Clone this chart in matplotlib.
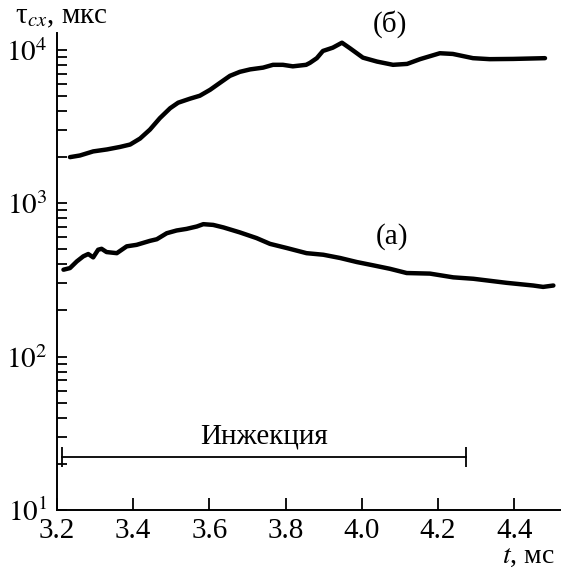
import math
import matplotlib
matplotlib.use("Agg")
import matplotlib.pyplot as plt
from matplotlib.ticker import LogLocator, FixedLocator, NullFormatter, FuncFormatter

plt.rcParams['font.family'] = ['Liberation Serif', 'DejaVu Serif']
plt.rcParams['mathtext.fontset'] = 'stix'

# Curve (б)
t_b = [3.234, 3.260, 3.295, 3.331, 3.365, 3.392, 3.418, 3.444, 3.470, 3.497,
       3.518, 3.549, 3.575, 3.602, 3.628, 3.654, 3.680, 3.707, 3.741, 3.767,
       3.793, 3.819, 3.854, 3.864, 3.882, 3.898, 3.924, 3.948, 3.969, 4.003,
       4.040, 4.082, 4.119, 4.153, 4.205, 4.239, 4.292, 4.336, 4.397, 4.481]
tau_b = [2000, 2050, 2180, 2245, 2330, 2417, 2644, 3025, 3592, 4170,
         4530, 4810, 5030, 5500, 6110, 6780, 7200, 7470, 7670, 8000,
         8000, 7820, 8000, 8240, 8840, 9850, 10350, 11150, 10260, 8910,
         8400, 8000, 8110, 8710, 9520, 9420, 8840, 8710, 8740, 8840]

# Curve (а)
t_a = [3.217, 3.234, 3.252, 3.269, 3.282, 3.295, 3.308, 3.317, 3.330, 3.357,
       3.383, 3.409, 3.444, 3.462, 3.488, 3.514, 3.540, 3.567, 3.584, 3.610,
       3.637, 3.680, 3.724, 3.759, 3.803, 3.855, 3.899, 3.943, 3.987, 4.030,
       4.074, 4.118, 4.179, 4.240, 4.293, 4.380, 4.450, 4.476, 4.503]
tau_a = [369, 378, 418, 451, 467, 444, 498, 505, 481, 473,
         524, 536, 569, 583, 638, 665, 681, 706, 731, 723,
         696, 646, 593, 544, 511, 473, 462, 440, 414, 394,
         374, 351, 348, 329, 322, 303, 291, 285, 291]

# Injection interval
inj_start, inj_end = 3.212, 4.274
inj_level = 22.2
inj_label = "Инжекция"

x_ticks = [3.2, 3.4, 3.6, 3.8, 4.0, 4.2, 4.4]
x_tick_labels = ["3.2", "3.4", "3.6", "3.8", "4.0", "4.2", "4.4"]
y_major = [10, 100, 1000, 10000]

fig = plt.figure(figsize=(5.61, 5.68), dpi=100)
ax = fig.add_axes([57/561, 58/568, 504/561, 477/568])

ax.plot(t_b, tau_b, color='black', lw=3.2, solid_capstyle='round', solid_joinstyle='round')
ax.plot(t_a, tau_a, color='black', lw=3.2, solid_capstyle='round', solid_joinstyle='round')

ax.set_yscale('log')
ax.set_xlim(3.2, 4.523)
ax.set_ylim(10, 12900)

ax.yaxis.set_major_locator(FixedLocator(y_major))
ax.yaxis.set_major_formatter(FuncFormatter(lambda v, p: r'$10^{%d}$' % round(math.log10(v))))
ax.yaxis.set_minor_locator(LogLocator(base=10, subs=range(2, 10), numticks=20))
ax.yaxis.set_minor_formatter(NullFormatter())
ax.set_xticks(x_ticks)
ax.set_xticklabels(x_tick_labels)

for s in ['top', 'right']:
    ax.spines[s].set_visible(False)
for s in ['left', 'bottom']:
    ax.spines[s].set_linewidth(1.4)

ax.tick_params(axis='both', which='both', direction='in', width=1.3, labelsize=21)
ax.tick_params(axis='y', which='both', length=7, pad=7)
ax.tick_params(axis='x', which='major', length=9, pad=6)

# Injection bar
ax.plot([inj_start, inj_end], [inj_level, inj_level], color='black', lw=1.3)
ax.plot([inj_start, inj_end], [inj_level, inj_level], ls='none', marker='|',
        markersize=14, markeredgewidth=1.3, color='black')
ax.text((inj_start + inj_end) / 2, 27, inj_label, ha='center', va='baseline', fontsize=21)

ax.text(4.079, 611, "(а)", ha='center', va='center', fontsize=21)
ax.text(4.074, 14800, "(б)", ha='center', va='center', fontsize=21, clip_on=False)

fig.text(15/561, 1 - 17/568, r'τ$_{cx}$, мкс', ha='left', va='center', fontsize=21)
fig.text(555/561, 1 - 563/568, r'$t$, мс', ha='right', va='baseline', fontsize=20)

fig.savefig('out.png', dpi=100)
